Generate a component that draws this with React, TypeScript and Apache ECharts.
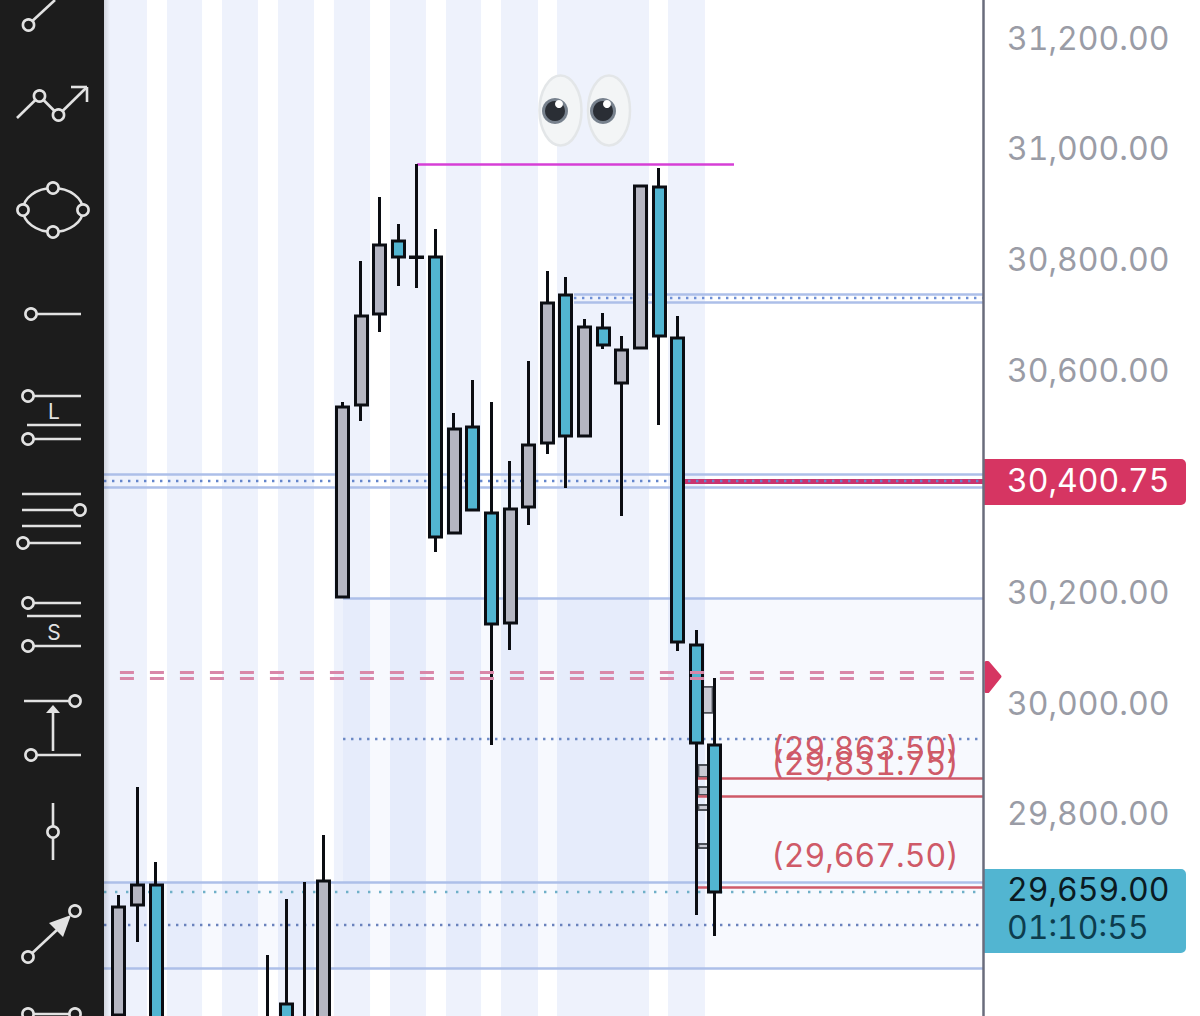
import React, { useEffect, useRef } from "react";
import * as echarts from "echarts";

// ---------- data ----------
const slots = [0, 1, 2, 8, 9, 10, 11, 12, 13, 14, 15, 16, 17, 18, 19, 20, 21, 22, 23, 24, 25, 26, 27, 28, 29, 30, 31, 32];
const opens = [29437, 29635.6, 29671.6, 29420, 29456.9, 29390, 29390, 30191.4, 30537.9, 30702.1, 30833.9, 30805, 30805, 30306.9, 30498.2, 30343, 30144.5, 30353.8, 30469.3, 30736.4, 30482, 30676.9, 30577.6, 30640.8, 30931.4, 30658.8, 30104.8, 29924.3];
const closes = [29632, 29671.6, 29380, 29385, 29390, 29425, 29678.9, 30534.3, 30698.5, 30826.7, 30805, 30804.1, 30299.7, 30494.6, 30348.4, 30142.7, 30350.2, 30465.7, 30722, 30482, 30678.7, 30646.2, 30637.2, 30933.1, 30662.4, 30110.2, 29927.9, 29659];
const lows = [29437, 29568.8, 29370, 29370, 29380, 29380, 29380, 30191.4, 30509, 30669.6, 30752.7, 30749.1, 30272.6, 30306.9, 30348.4, 29924.3, 30095.8, 30321.3, 30449.5, 30388.1, 30480.2, 30639, 30337.6, 30639, 30501.8, 30094, 29617.5, 29579.6];
const highs = [29653.6, 29848.5, 29713.2, 29545.3, 29646.4, 29677, 29761.9, 30543.3, 30797.8, 30913.3, 30864.6, 30972.8, 30855.5, 30523.5, 30583, 30543.3, 30436.8, 30617.3, 30779.7, 30768.9, 30693.1, 30703.9, 30662.4, 30933.1, 30965.6, 30698.5, 30131.9, 30045.2];

// ghost boxes sitting half a slot between the two last candles
const ghostSlot = 31.5;
const ghostOpens = [29982.1, 29866.6, 29834.1, 29807, 29738.4];
const ghostCloses = [30029, 29888.2, 29848.5, 29816, 29745.6];

const bandEdges = [
  [-0.805, 1.5], [2.58, 4.46], [5.53, 7.46], [8.54, 10.47], [11.54, 13.48], [14.55, 16.48],
  [17.56, 19.44], [20.51, 22.5], [23.52, 28.46], [29.48, 31.46],
];

const X_MIN = -0.805;
const X_MAX = 46.39;

const solidLevels = [
  [X_MIN, X_MAX, 30413.4], [X_MIN, X_MAX, 30389.9],
  [24.43, X_MAX, 30738.2], [24.43, X_MAX, 30723.8],
  [12.03, X_MAX, 30189.6],
  [X_MIN, X_MAX, 29677], [X_MIN, X_MAX, 29521.8],
];
const dottedLevels = [
  [24.43, X_MAX, 30731, "#6f90d6", 8],
  [X_MIN, X_MAX, 30400.75, "#6486cc", 8],
  [12.03, X_MAX, 29935.1, "#6a87c4", 8],
  [X_MIN, X_MAX, 29659.5, "#6fb0c8", 11],
  [X_MIN, X_MAX, 29599.4, "#6a82bd", 8],
];
const redLevels = [29863.5, 29831.75, 29667.5];
const redLabels = ["(29,863.50)", "(29,831.75)", "(29,667.50)"];
const redLabelLift = [30, 33, 32];
const highLine = [16, 33.02, 30971.6];
const priceLine = [30.34, X_MAX, 30400.75];
const dashLevels = [30054.8, 30043.9];

const yTickMin = 29400;
const yTickMax = 31400;
const yTickStep = 200;
const hiddenTicks = [29400, 29600, 30400, 31400];
const priceMark = 30400.75;
const priceMarkText = "30,400.75";
const alertLevel = 30048;
const lastPrice = 29659;
const lastPriceText = "29,659.00";
const countdownText = "01:10:55";

// ---------- styles ----------
const FONT = "Inter";
const TEAL = "#52b5d1";
const GREY = "#b5b6c2";
const INK = "#0b0d12";
const CRIMSON = "#d63562";
const BAND = "#eef2fc";
const LEVEL = "#adbfe9";
const RED = "#cf5a68";
const ICON = "#e2e2e2";
const BAR = "#1c1c1c";

function seg(x1: number, y1: number, x2: number, y2: number) {
  return { type: "line", z: 101, shape: { x1, y1, x2, y2 }, style: { stroke: ICON, lineWidth: 2.6 } };
}
function dot(cx: number, cy: number, r = 5.6) {
  return { type: "circle", z: 102, shape: { cx, cy, r }, style: { fill: BAR, stroke: ICON, lineWidth: 2.6 } };
}
function tri(points: number[][]) {
  return { type: "polygon", z: 102, shape: { points }, style: { fill: ICON } };
}
function letter(text: string, x: number, y: number) {
  return {
    type: "text", z: 102, x, y,
    style: { text, fill: ICON, fontFamily: FONT, fontSize: 21, align: "center", verticalAlign: "middle" },
  };
}
function eye(cx: number, px: number) {
  return [
    { type: "ellipse", z: 20, shape: { cx, cy: 110.5, rx: 21, ry: 35 }, style: { fill: "#f3f5f6", stroke: "#e3e6e8", lineWidth: 2.5 } },
    { type: "circle", z: 21, shape: { cx: px, cy: 111, r: 13 }, style: { fill: "#77818d" } },
    { type: "circle", z: 22, shape: { cx: px, cy: 111, r: 10 }, style: { fill: "#2a2e35" } },
    { type: "circle", z: 23, shape: { cx: px + 4, cy: 104, r: 4 }, style: { fill: "#ffffff" } },
  ];
}

const toolbar: any[] = [
  { type: "rect", z: 100, shape: { x: 0, y: 0, width: 104, height: 1016 }, style: { fill: BAR } },
  {
    type: "rect", z: 100, shape: { x: 104, y: 0, width: 6, height: 1016 },
    style: { fill: new echarts.graphic.LinearGradient(0, 0, 1, 0, [
      { offset: 0, color: "rgba(0,0,0,0.12)" }, { offset: 1, color: "rgba(0,0,0,0)" },
    ]) },
  },
  seg(28, 25, 55, 0), dot(28.5, 25),
  seg(17, 118, 39.5, 96), seg(39.5, 96, 58.5, 115), seg(58.5, 115, 87, 87), seg(71, 87, 87, 87), seg(87, 87, 87, 102),
  dot(39.5, 96), dot(58.5, 115),
  { type: "ellipse", z: 101, shape: { cx: 53, cy: 210, rx: 30, ry: 22 }, style: { fill: "none", stroke: ICON, lineWidth: 2.6 } },
  dot(53, 188), dot(53, 232), dot(23, 210), dot(83, 210),
  seg(31, 314, 81, 314), dot(31, 314),
  seg(28, 396, 81, 396), dot(28, 396), letter("L", 54, 411), seg(27, 425, 81, 425), seg(28, 439, 81, 439), dot(28, 439),
  seg(22, 494, 81, 494), seg(22, 510, 80, 510), dot(80, 510), seg(22, 526, 81, 526), seg(23, 543, 81, 543), dot(23, 543),
  seg(28, 603, 81, 603), dot(28, 603), seg(27, 616, 81, 616), letter("S", 54, 632), seg(28, 646, 81, 646), dot(28, 646),
  seg(24, 701, 75, 701), dot(75, 701), seg(53, 751, 53, 712), tri([[53, 705], [60, 713], [46, 713]]), seg(31, 755, 81, 755), dot(31, 755),
  seg(53, 803, 53, 860), dot(53, 832),
  seg(28, 957, 58, 929), tri([[71, 915], [49, 923], [63, 937]]), dot(28, 957), dot(75, 911),
  seg(28, 1014, 75, 1014), dot(28, 1014), dot(75, 1014),
  ...eye(560.5, 555),
  ...eye(609, 603),
];

function levelPair(x1: number, x2: number, v: number, lineStyle: any) {
  return [{ coord: [x1, v], lineStyle }, { coord: [x2, v] }];
}

function App() {
  const ref = useRef<HTMLDivElement>(null);
  useEffect(() => {
    const chart = echarts.init(ref.current!, undefined, { renderer: "svg" });
    const candleRows = slots.map((s, i) => [s, opens[i], closes[i], lows[i], highs[i]]);
    const ghostRows = ghostOpens.map((o, i) => [ghostSlot, o, ghostCloses[i], o, ghostCloses[i]]);
    const option: any = {
      animation: false,
      backgroundColor: "#ffffff",
      grid: { left: 104, right: 217, top: -72.7, bottom: -19.5, containLabel: false, outerBoundsMode: "none" },
      xAxis: { type: "value", min: X_MIN, max: X_MAX, show: false, splitLine: { show: false } },
      yAxis: {
        type: "value", position: "right", min: yTickMin, max: yTickMax, interval: yTickStep, z: 10,
        splitLine: { show: false }, axisTick: { show: false },
        axisLine: { show: true, onZero: false, lineStyle: { color: "#6a6c7c", width: 2.5 } },
        axisLabel: {
          margin: 24, color: "#9a9ca6", fontFamily: FONT, fontSize: 32, padding: [0, 0, 4, 0],
          formatter: (v: number) => hiddenTicks.includes(v) ? "" : v.toLocaleString("en-US", { minimumFractionDigits: 2, maximumFractionDigits: 2 }),
        },
      },
      graphic: { elements: toolbar },
      series: [
        {
          type: "line", data: [], z: 0, silent: true,
          markArea: {
            silent: true, z: 0,
            data: [
              ...bandEdges.map(([a, b]) => [{ xAxis: a, itemStyle: { color: BAND } }, { xAxis: b }]),
              [{ coord: [12.03, 30189.6], itemStyle: { color: "rgba(70,110,235,0.045)" } }, { coord: [X_MAX, 29521.8] }],
              [{ coord: [X_MIN, 29677], itemStyle: { color: "rgba(70,110,235,0.045)" } }, { coord: [12.03, 29521.8] }],
            ],
          },
          markLine: {
            silent: true, z: 1, symbol: ["none", "none"], label: { show: false },
            data: [
              ...solidLevels.map(([a, b, v]) => levelPair(a, b, v, { color: LEVEL, width: 2.5, type: "solid" })),
              levelPair(priceLine[0], priceLine[1], priceLine[2], { color: "#c9336f", width: 5, type: "solid" }),
              ...dottedLevels.map(([a, b, v, c, p]: any) => levelPair(a, b, v, { color: c, width: 2.4, type: [2.4, p - 2.4] })),
              levelPair(highLine[0], highLine[1], highLine[2], { color: "#d63fd6", width: 2.6, type: "solid" }),
            ],
          },
        },
        {
          type: "candlestick", z: 2, silent: true, barWidth: 15, data: ghostRows,
          encode: { x: 0, y: [1, 2, 3, 4] },
          itemStyle: { color: "#c9cad4", color0: "#c9cad4", borderColor: "#4c5058", borderColor0: "#4c5058", borderWidth: 1.8 },
        },
        {
          type: "line", data: [], z: 3, silent: true,
          markLine: {
            silent: true, z: 3, symbol: ["none", "none"], label: { show: false },
            data: redLevels.map((v) => levelPair(31.03, X_MAX, v, { color: RED, width: 2.6, type: "solid" })),
          },
        },
        {
          type: "candlestick", z: 4, silent: true, barWidth: 12.5, data: candleRows,
          encode: { x: 0, y: [1, 2, 3, 4] },
          itemStyle: { color: GREY, color0: TEAL, borderColor: INK, borderColor0: INK, borderWidth: 3 },
        },
        {
          type: "line", data: [], z: 5, silent: true,
          markLine: {
            silent: true, z: 5, symbol: ["none", "none"], label: { show: false },
            data: dashLevels.map((v) => levelPair(0.05, 45.9, v, { color: "#d987a9", width: 2.8, type: [14, 16] })),
          },
        },
        {
          type: "custom", z: 6, silent: true,
          data: redLevels.map((v, i) => [40.05, v, i]),
          encode: { x: 0, y: 1 },
          renderItem: (_p: any, api: any) => {
            const [x, y] = api.coord([api.value(0), api.value(1)]);
            const i = api.value(2);
            return {
              type: "text",
              style: {
                x, y: y - redLabelLift[i], text: redLabels[i], fill: RED, fontFamily: FONT, fontSize: 32,
                align: "center", verticalAlign: "middle",
              },
            };
          },
        },
        {
          type: "custom", z: 7, silent: true,
          data: [[X_MAX, priceMark, 0], [X_MAX, alertLevel, 1], [X_MAX, lastPrice, 2]],
          encode: { x: 0, y: 1 },
          renderItem: (_p: any, api: any) => {
            const [x, y] = api.coord([api.value(0), api.value(1)]);
            const kind = api.value(2);
            const txt = (text: string, ty: number, fill: string) => ({
              type: "text",
              style: { x: x + 24, y: ty, text, fill, fontFamily: FONT, fontSize: 32, align: "left", verticalAlign: "middle" },
            });
            if (kind === 0) {
              return {
                type: "group",
                children: [
                  { type: "rect", shape: { x: x + 1, y: y - 22, width: 202, height: 46, r: [0, 5, 5, 0] }, style: { fill: CRIMSON } },
                  txt(priceMarkText, y, "#ffffff"),
                ],
              };
            }
            if (kind === 1) {
              return {
                type: "polygon",
                shape: { points: [[x + 3, y - 14], [x + 5, y - 14], [x + 17, y], [x + 5, y + 15], [x + 3, y + 15]] },
                style: { fill: CRIMSON, stroke: CRIMSON, lineWidth: 3, lineJoin: "round" },
              };
            }
            return {
              type: "group",
              children: [
                { type: "rect", shape: { x: x + 1, y: y - 23, width: 202, height: 84, r: [0, 5, 5, 0] }, style: { fill: TEAL } },
                txt(lastPriceText, y - 2, "#0a1a22"),
                txt(countdownText, y + 36, "#0d3d4e"),
              ],
            };
          },
        },
      ],
    };
    chart.setOption(option);
    return () => chart.dispose();
  }, []);
  return <div ref={ref} style={{ position: "absolute", left: 0, top: 0, width: 1200, height: 1016, fontFeatureSettings: '"tnum"' }} />;
}

export default App;
